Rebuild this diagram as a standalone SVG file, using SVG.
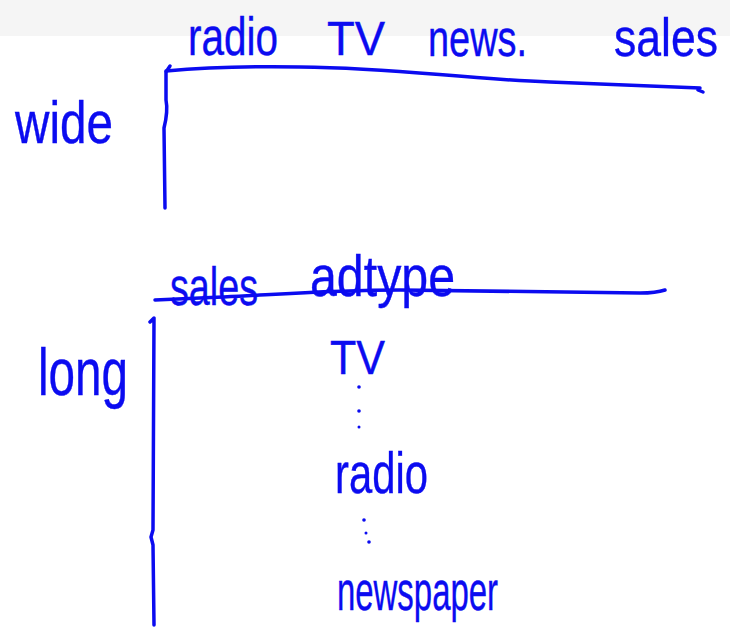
<svg xmlns="http://www.w3.org/2000/svg" width="730" height="643" viewBox="0 0 730 643">
<style>
.t{font-family:"Liberation Sans Narrow","Liberation Sans",sans-serif;fill:#0b0bf0;stroke:#0b0bf0;stroke-width:0.4;}
.ln{fill:none;stroke:#0b0bf0;stroke-width:3.5;stroke-linecap:round;stroke-linejoin:round;}
.dot{fill:#0b0bf0;}
</style>
<rect x="0" y="0" width="730" height="36" fill="#f5f5f5"/>
<g id="wide-label"><text class="t" x="15" y="143" font-size="60" textLength="98" lengthAdjust="spacingAndGlyphs">wide</text></g>
<g id="wide-radio"><text class="t" x="188" y="55" font-size="54" textLength="90" lengthAdjust="spacingAndGlyphs">radio</text></g>
<g id="wide-tv"><text class="t" x="327" y="55" font-size="48" textLength="58" lengthAdjust="spacingAndGlyphs">TV</text></g>
<g id="wide-news"><text class="t" x="428" y="56" font-size="52" textLength="99" lengthAdjust="spacingAndGlyphs">news.</text></g>
<g id="wide-sales"><text class="t" x="614" y="56" font-size="54" textLength="104" lengthAdjust="spacingAndGlyphs">sales</text></g>
<g id="long-label"><text class="t" x="38" y="395" font-size="66" textLength="90" lengthAdjust="spacingAndGlyphs">long</text></g>
<g id="long-sales"><text class="t" x="170" y="305" font-size="54" textLength="88" lengthAdjust="spacingAndGlyphs">sales</text></g>
<g id="long-adtype"><text class="t" x="310" y="296" font-size="58" textLength="145" lengthAdjust="spacingAndGlyphs">adtype</text></g>
<g id="long-tv"><text class="t" x="330" y="374" font-size="48" textLength="55" lengthAdjust="spacingAndGlyphs">TV</text></g>
<g id="long-radio"><text class="t" x="335" y="493" font-size="58" textLength="93" lengthAdjust="spacingAndGlyphs">radio</text></g>
<g id="long-newspaper"><text class="t" x="337" y="610" font-size="56" textLength="161" lengthAdjust="spacingAndGlyphs">newspaper</text></g>
<g id="dots">
<circle class="dot" cx="359" cy="387" r="1.8"/>
<circle class="dot" cx="359" cy="411" r="1.8"/>
<circle class="dot" cx="359" cy="427" r="1.5"/>
<circle class="dot" cx="364" cy="520" r="1.8"/>
<circle class="dot" cx="366" cy="533" r="1.5"/>
<circle class="dot" cx="369" cy="542" r="1.8"/>
</g>
<g id="connectors">
<path class="ln" d="M166,71 C200,68 240,66 300,67 C400,68 450,78 550,82 L700,88"/>
<path class="ln" d="M698,90 L703,92"/>
<path class="ln" d="M170,66 L166,72 L166,100 C168,110 166,120 164,128 L165,208"/>
<path class="ln" d="M155,300 L200,298 C260,296 320,290 400,290 L640,293 C655,293 662,291 665,290"/>
<path class="ln" d="M150,322 L154,318 L153,530 L151,537 L153,545 L154,625"/>
</g>
</svg>
